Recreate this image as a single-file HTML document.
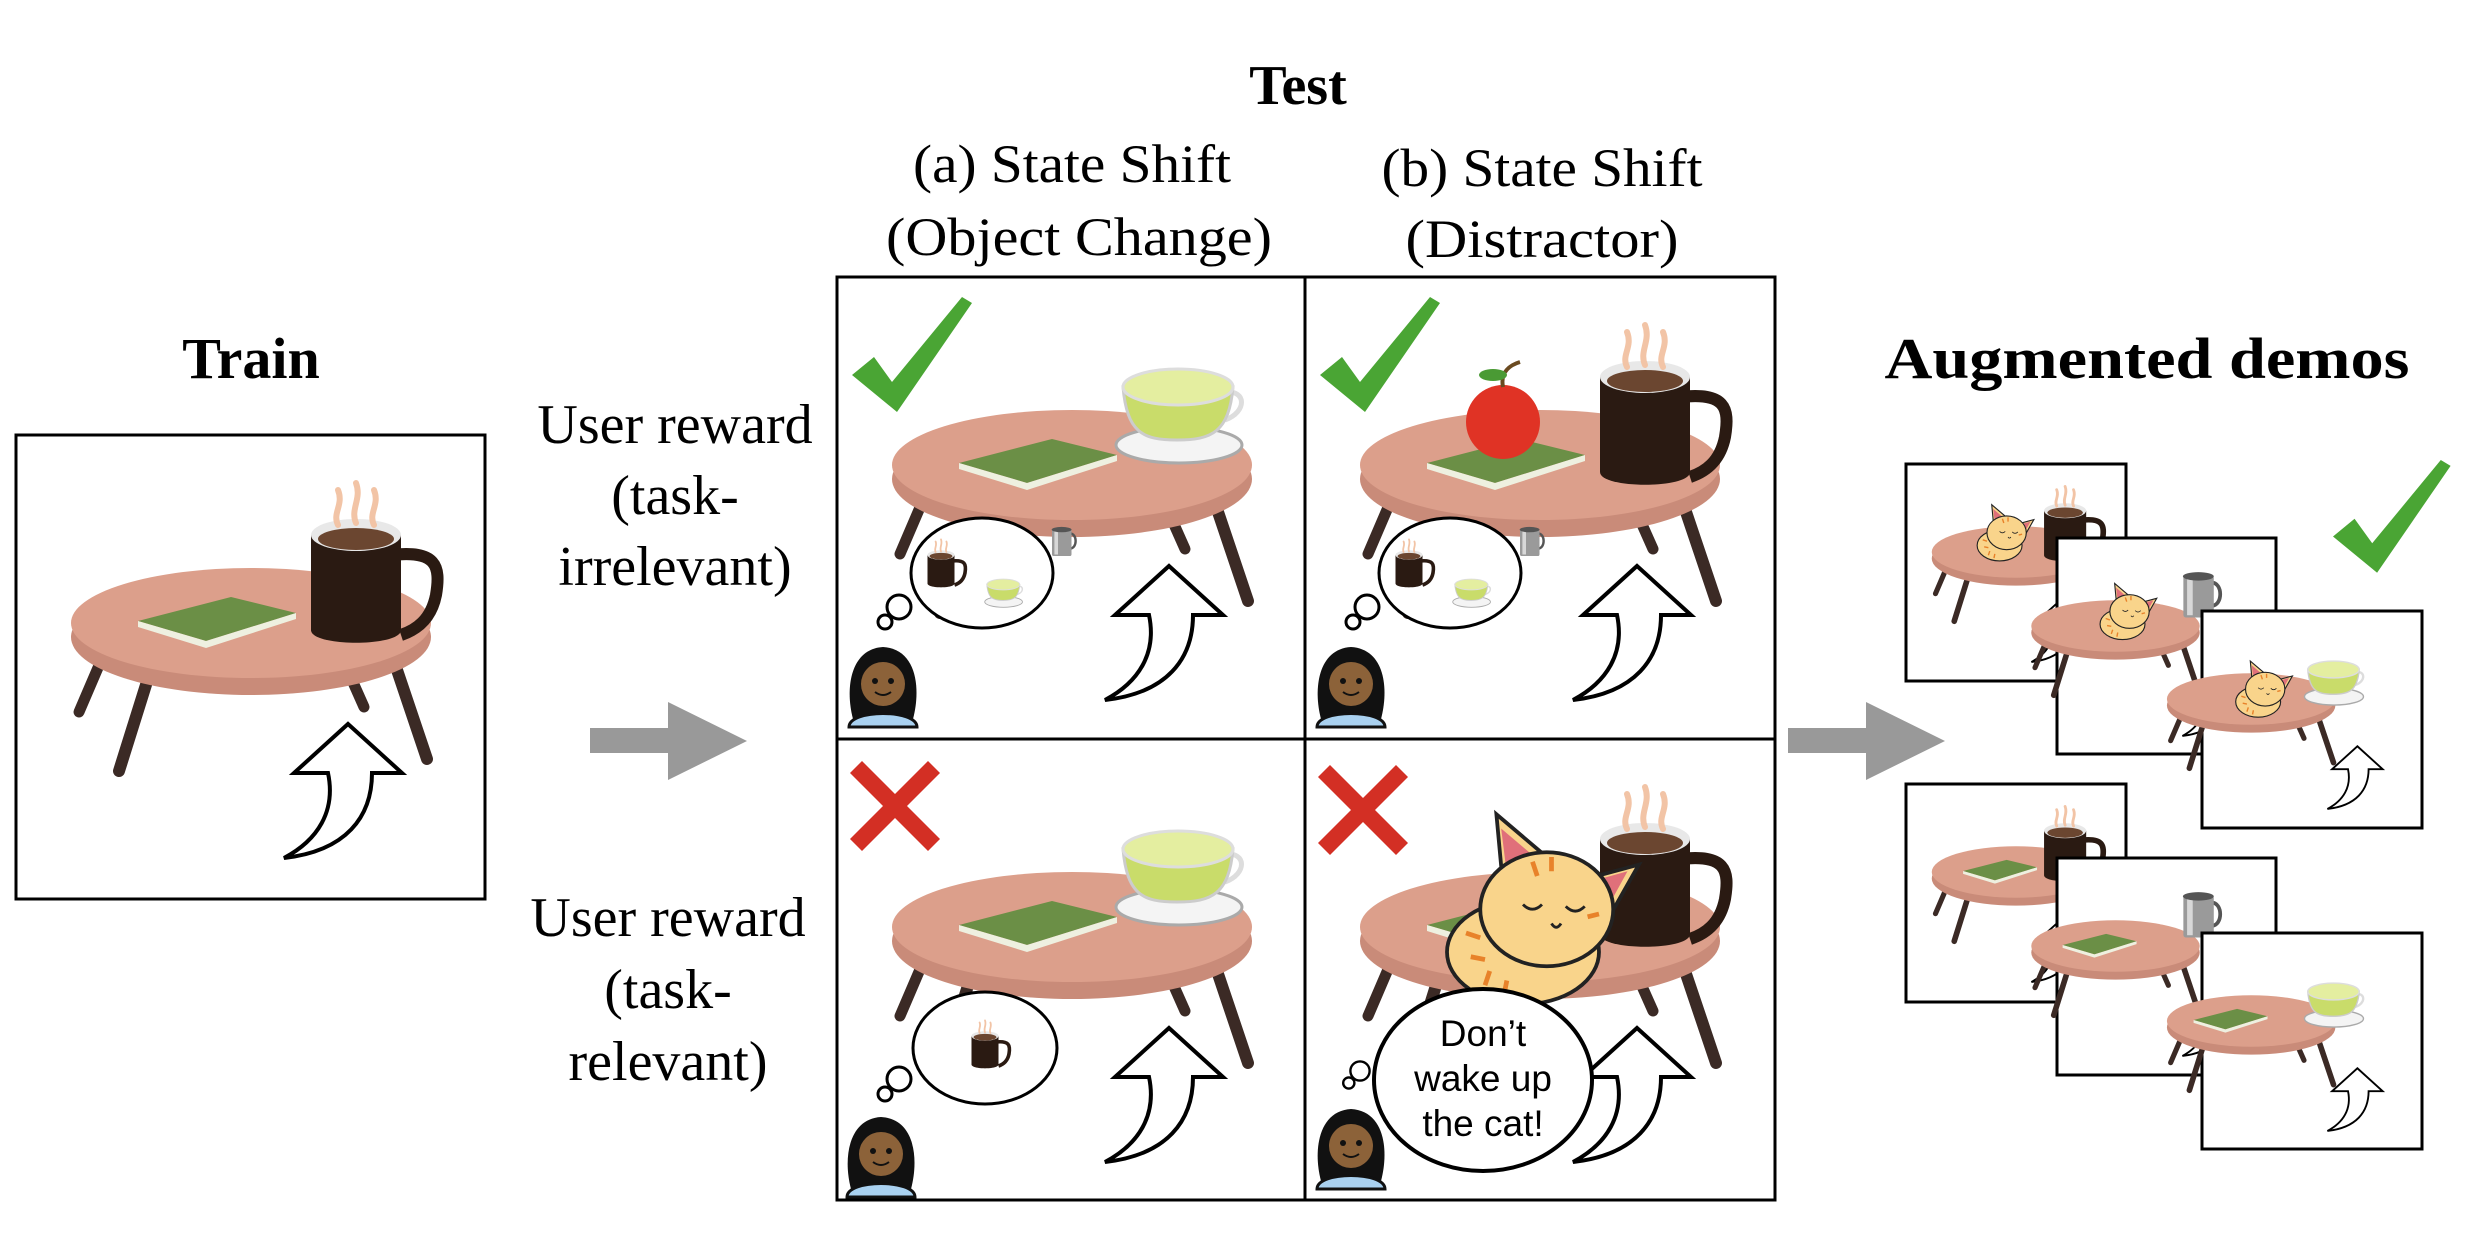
<!DOCTYPE html>
<html><head><meta charset="utf-8"><style>
html,body{margin:0;padding:0;background:#fff;width:2478px;height:1242px;overflow:hidden}
svg{display:block}
.serif{font-family:"Liberation Serif",serif;fill:#000}
.sans{font-family:"Liberation Sans",sans-serif;fill:#000}
</style></head><body>
<svg width="2478" height="1242" viewBox="0 0 2478 1242" xmlns="http://www.w3.org/2000/svg">
<defs>
  <g id="table">
    <line x1="87" y1="221" x2="63" y2="277" stroke="#3b2a25" stroke-width="11" stroke-linecap="round"/>
    <line x1="336" y1="245" x2="348" y2="272" stroke="#3b2a25" stroke-width="11" stroke-linecap="round"/>
    <line x1="134" y1="237" x2="103" y2="336" stroke="#3b2a25" stroke-width="12" stroke-linecap="round"/>
    <line x1="379" y1="229" x2="411" y2="324" stroke="#3b2a25" stroke-width="12" stroke-linecap="round"/>
    <ellipse cx="235" cy="202" rx="180" ry="58" fill="#c98b79"/>
    <ellipse cx="235" cy="188" rx="180" ry="55" fill="#dc9f8b"/>
  </g>
  <g id="arrow">
    <path d="M332,289 L386,338 L356,338 C356,382 330,416 268,423 C302,405 320,376 312,338 L278,338 Z" fill="#fff" stroke="#000" stroke-width="4" stroke-linejoin="miter"/>
  </g>
  <g id="book">
    <polygon points="122,186 215,162 280,178 190,206 " fill="#6b8f46"/>
    <polygon points="122,186 190,206 280,178 280,184 190,213 122,192" fill="#eef0e0"/>
  </g>
  <g id="mug">
    <path d="M375,120 C420,115 425,130 420,160 C415,185 400,195 385,200" fill="none" stroke="#2a1a12" stroke-width="12"/>
    <path d="M295,100 L295,195 C295,212 385,212 385,195 L385,100 Z" fill="#2a1a12"/>
    <ellipse cx="340" cy="100" rx="45" ry="16" fill="#e8e8e8"/>
    <ellipse cx="340" cy="104" rx="38" ry="11" fill="#6b4630"/>
    <path d="M322,90 C316,78 328,70 322,55 M340,88 C334,74 346,64 340,48 M358,90 C352,78 364,70 358,55" fill="none" stroke="#f2c4a6" stroke-width="6" stroke-linecap="round"/>
  </g>
  <g id="tea">
    <ellipse cx="342" cy="183" rx="63" ry="18" fill="#f4f4f4" stroke="#aaa" stroke-width="3"/>
    <path d="M388,130 C410,128 410,150 388,158" fill="none" stroke="#ddd" stroke-width="5"/>
    <path d="M286,125 C290,170 305,178 340,178 C375,178 392,170 396,125 Z" fill="#c9dc6a" stroke="#ccc" stroke-width="3"/>
    <ellipse cx="341" cy="125" rx="55" ry="18" fill="#e4eea0" stroke="#ddd" stroke-width="3"/>
  </g>
  <g id="steel">
    <path d="M370,115 C395,115 395,165 370,165" fill="none" stroke="#555" stroke-width="8"/>
    <rect x="310" y="100" width="65" height="90" rx="6" fill="#9a9a9a"/>
    <rect x="318" y="105" width="12" height="80" fill="#d8d8d8"/>
    <ellipse cx="342" cy="102" rx="33" ry="9" fill="#555"/>
  </g>
  <g id="person">
    <path d="M8,80 C0,50 5,10 38,8 C72,10 76,50 68,80 Z" fill="#111"/>
    <circle cx="38" cy="45" r="22" fill="#8c6239"/>
    <circle cx="30" cy="42" r="3" fill="#111"/><circle cx="46" cy="42" r="3" fill="#111"/>
    <path d="M30,53 Q38,59 46,53" fill="none" stroke="#111" stroke-width="2"/>
    <path d="M4,88 C4,70 72,70 72,88 Z" fill="#a9d1f0" stroke="#111" stroke-width="3"/>
  </g>
  <g id="cat">
    <polygon points="-22,-40 -28,-105 25,-60" fill="#f9d48b" stroke="#222" stroke-width="4"/>
    <polygon points="-18,-50 -23,-90 10,-62" fill="#e0707a"/>
    <polygon points="70,-38 122,-52 88,8" fill="#f9d48b" stroke="#222" stroke-width="4"/>
    <polygon points="78,-36 110,-45 88,-5" fill="#e0707a"/>
    <ellipse cx="0" cy="40" rx="80" ry="55" fill="#f9d48b" stroke="#222" stroke-width="4"/>
    <ellipse cx="25" cy="-5" rx="70" ry="60" fill="#f9d48b" stroke="#222" stroke-width="4"/>
    <path d="M0,-10 q10,10 20,0 M45,-8 q10,10 20,0 M30,10 q5,8 10,0" fill="none" stroke="#222" stroke-width="3"/>
    <path d="M-60,20 l15,5 M-55,45 l15,3 M-40,75 l5,-15 M-20,85 l3,-15 M10,-55 l5,15 M30,-60 l0,15 M80,0 l-12,3" stroke="#e8822a" stroke-width="5"/>
  </g>
  <g id="check">
    <path d="M0,78 L22,60 L40,85 L110,0 L120,6 L45,115 Z" fill="#4aa534"/>
  </g>
  <g id="xmark">
    <path d="M0,12 L12,0 L45,33 L78,0 L90,12 L57,45 L90,78 L78,90 L45,57 L12,90 L0,78 L33,45 Z" fill="#d32f24"/>
  </g>
  <g id="thought">
    <circle cx="0" cy="0" r="12" fill="#fff" stroke="#000" stroke-width="3"/>
    <circle cx="-14" cy="15" r="7" fill="#fff" stroke="#000" stroke-width="3"/>
  </g>
</defs>

<text x="251" y="378" class="serif" font-size="58" font-weight="bold" text-anchor="middle">Train</text>
<text x="1298" y="104" class="serif" font-size="56" font-weight="bold" text-anchor="middle">Test</text>
<text x="2147" y="378" class="serif" font-size="58" font-weight="bold" text-anchor="middle" textLength="525" lengthAdjust="spacingAndGlyphs">Augmented demos</text>
<text x="1072" y="182" class="serif" font-size="54" text-anchor="middle" textLength="318" lengthAdjust="spacingAndGlyphs">(a) State Shift</text>
<text x="1079" y="255" class="serif" font-size="54" text-anchor="middle" textLength="386" lengthAdjust="spacingAndGlyphs">(Object Change)</text>
<text x="1542" y="186" class="serif" font-size="54" text-anchor="middle" textLength="321" lengthAdjust="spacingAndGlyphs">(b) State Shift</text>
<text x="1542" y="257" class="serif" font-size="54" text-anchor="middle" textLength="273" lengthAdjust="spacingAndGlyphs">(Distractor)</text>

<text class="serif" font-size="56" text-anchor="middle"><tspan x="675" y="443">User reward</tspan><tspan x="675" y="514">(task-</tspan><tspan x="675" y="585">irrelevant)</tspan></text>
<text class="serif" font-size="56" text-anchor="middle"><tspan x="668" y="936">User reward</tspan><tspan x="668" y="1008">(task-</tspan><tspan x="668" y="1080">relevant)</tspan></text>

<g transform="translate(16,435)">
  <rect x="0" y="0" width="469" height="464" fill="#fff" stroke="#000" stroke-width="3"/>
  <use href="#table"/><use href="#book"/><use href="#mug"/><use href="#arrow"/>
</g>

<polygon points="590,728 668,728 668,702 747,741 668,780 668,753 590,753" fill="#999"/>
<polygon points="1788,728 1866,728 1866,702 1945,741 1866,780 1866,753 1788,753" fill="#999"/>

<rect x="837" y="277" width="938" height="923" fill="#fff" stroke="#000" stroke-width="3"/>
<line x1="1305" y1="277" x2="1305" y2="1200" stroke="#000" stroke-width="3"/>
<line x1="837" y1="739" x2="1775" y2="739" stroke="#000" stroke-width="3"/>

<g transform="translate(837,277)">
  <use href="#table"/><use href="#book"/><use href="#tea" transform="translate(0,-15)"/><use href="#arrow"/>
  <use href="#check" transform="translate(15,20)"/>
  <ellipse cx="145" cy="296" rx="71" ry="55" fill="#fff" stroke="#000" stroke-width="3"/>
  <g transform="translate(62,248) scale(0.3)"><use href="#mug" transform="translate(-200,0)"/></g>
  <g transform="translate(80,240) scale(0.3)"><use href="#steel" transform="translate(140,-60)"/></g>
  <g transform="translate(100,270) scale(0.3)"><use href="#tea" transform="translate(-120,0)"/></g>
  <use href="#thought" transform="translate(62,330)"/>
  <use href="#person" transform="translate(8,362)"/>
</g>
<g transform="translate(837,739)">
  <use href="#table"/><use href="#book"/><use href="#tea" transform="translate(0,-15)"/><use href="#arrow"/>
  <use href="#xmark" transform="translate(13,22)"/>
  <ellipse cx="148" cy="309" rx="72" ry="56" fill="#fff" stroke="#000" stroke-width="3"/>
  <g transform="translate(148,309) scale(0.3) translate(-340,-140)"><use href="#mug"/></g>
  <use href="#thought" transform="translate(62,340)"/>
  <use href="#person" transform="translate(6,370)"/>
</g>
<g transform="translate(1305,277)">
  <use href="#table"/><use href="#book"/><use href="#mug"/><use href="#arrow"/>
  <use href="#check" transform="translate(15,20)"/>
  <circle cx="198" cy="145" r="37" fill="#e03325"/>
  <path d="M198,110 C195,95 205,88 215,85" fill="none" stroke="#6a4a20" stroke-width="4"/>
  <ellipse cx="188" cy="98" rx="14" ry="6" fill="#4a9a34"/>
  <ellipse cx="145" cy="296" rx="71" ry="55" fill="#fff" stroke="#000" stroke-width="3"/>
  <g transform="translate(62,248) scale(0.3)"><use href="#mug" transform="translate(-200,0)"/></g>
  <g transform="translate(80,240) scale(0.3)"><use href="#steel" transform="translate(140,-60)"/></g>
  <g transform="translate(100,270) scale(0.3)"><use href="#tea" transform="translate(-120,0)"/></g>
  <use href="#thought" transform="translate(62,330)"/>
  <use href="#person" transform="translate(8,362)"/>
</g>
<g transform="translate(1305,739)">
  <use href="#table"/><use href="#book"/><use href="#mug"/><use href="#arrow"/>
  <use href="#xmark" transform="translate(13,26)"/>
  <use href="#cat" transform="translate(218,175) scale(0.95)"/>
  <ellipse cx="178" cy="341" rx="109" ry="91" fill="#fff" stroke="#000" stroke-width="4"/>
  <use href="#thought" transform="translate(55,332) scale(0.8)"/>
  <use href="#person" transform="translate(8,362)"/>
  <text class="sans" font-size="37" text-anchor="middle"><tspan x="178" y="307">Don’t</tspan><tspan x="178" y="352">wake up</tspan><tspan x="178" y="397">the cat!</tspan></text>
</g>

<g transform="translate(1906,464)">
  <rect width="220" height="217" fill="#fff" stroke="#000" stroke-width="3"/>
  <g transform="scale(0.468)"><use href="#table"/><use href="#mug"/><use href="#cat" transform="translate(200,150) scale(0.6)"/><use href="#arrow"/></g>
</g>
<g transform="translate(2057,538)">
  <rect width="219" height="216" fill="#fff" stroke="#000" stroke-width="3"/>
  <g transform="scale(0.468)"><use href="#table" transform="translate(-110,0)"/><use href="#steel" transform="translate(-40,-20)"/><use href="#cat" transform="translate(140,160) scale(0.6)"/><use href="#arrow"/></g>
</g>
<g transform="translate(2202,611)">
  <rect width="220" height="217" fill="#fff" stroke="#000" stroke-width="3"/>
  <g transform="scale(0.468)"><use href="#table" transform="translate(-130,0)"/><use href="#tea" transform="translate(-60,0)"/><use href="#cat" transform="translate(120,170) scale(0.6)"/><use href="#arrow"/></g>
</g>
<use href="#check" transform="translate(2333,460) scale(0.98)"/>

<g transform="translate(1906,784)">
  <rect width="220" height="218" fill="#fff" stroke="#000" stroke-width="3"/>
  <g transform="scale(0.468)"><use href="#table"/><use href="#book"/><use href="#mug"/><use href="#arrow"/></g>
</g>
<g transform="translate(2057,858)">
  <rect width="219" height="217" fill="#fff" stroke="#000" stroke-width="3"/>
  <g transform="scale(0.468)"><use href="#table" transform="translate(-110,0)"/><use href="#book" transform="translate(-110,0)"/><use href="#steel" transform="translate(-40,-20)"/><use href="#arrow"/></g>
</g>
<g transform="translate(2202,933)">
  <rect width="220" height="216" fill="#fff" stroke="#000" stroke-width="3"/>
  <g transform="scale(0.468)"><use href="#table" transform="translate(-130,0)"/><use href="#book" transform="translate(-140,0)"/><use href="#tea" transform="translate(-60,0)"/><use href="#arrow"/></g>
</g>
</svg>
</body></html>
